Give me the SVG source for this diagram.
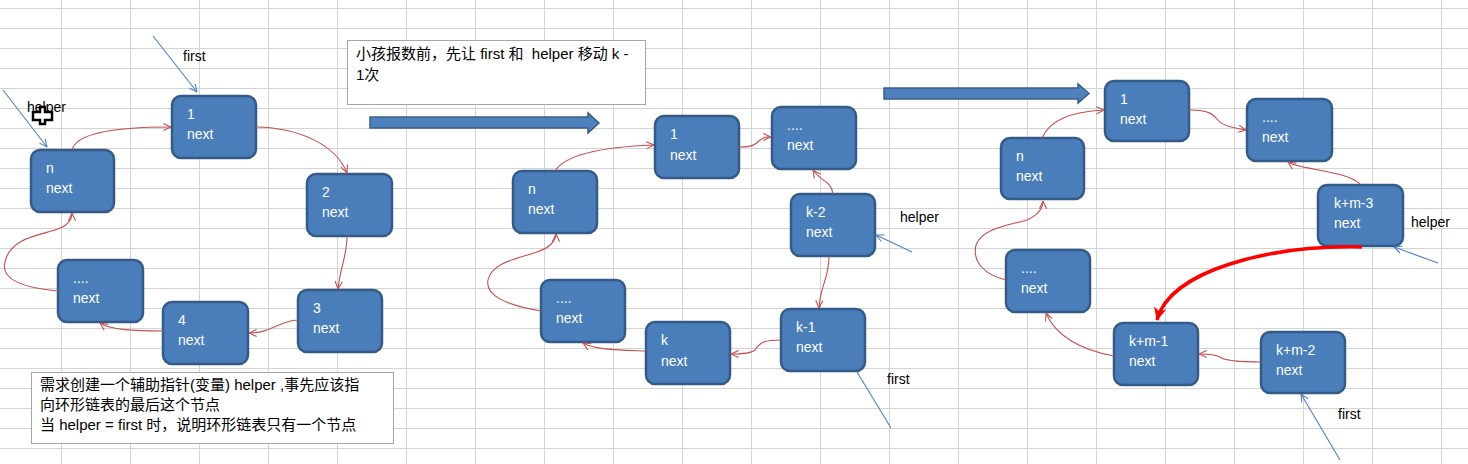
<svg xmlns="http://www.w3.org/2000/svg" width="1468" height="464" viewBox="0 0 1468 464">
<style>
.grid{stroke:#d4d4d4;stroke-width:1;fill:none}
.node rect{fill:#4a7ebb;stroke:#345a87;stroke-width:2.5}
.node text{fill:#ffffff;font-family:"Liberation Sans","Noto Sans",sans-serif;font-size:14px}
.lbl{fill:#000000;font-family:"Liberation Sans","Noto Sans",sans-serif;font-size:14px}
.box rect{fill:#ffffff;stroke:#a6a6a6;stroke-width:1}
.box text{fill:#000000;font-family:"Liberation Sans","Noto Sans CJK SC",sans-serif;font-size:15px}
.link{fill:none;stroke:#c0504d;stroke-width:1.1;marker-end:url(#ar)}
.ptr{fill:none;stroke:#4f81bd;stroke-width:1.1}
.ptra{marker-end:url(#ab)}
.big{fill:#4f81bd;stroke:#385d8a;stroke-width:1.5}
.thick{fill:none;stroke:#ff0000;stroke-width:3.5;marker-end:url(#ah)}
</style>
<defs>
<marker id="ar" viewBox="0 0 10 10" refX="9.5" refY="5" markerWidth="9" markerHeight="9" orient="auto" markerUnits="userSpaceOnUse"><path d="M1,1 L9.5,5 L1,9" fill="none" stroke="#c0504d" stroke-width="1.2"/></marker>
<marker id="ab" viewBox="0 0 10 10" refX="9.5" refY="5" markerWidth="9" markerHeight="9" orient="auto" markerUnits="userSpaceOnUse"><path d="M1,1 L9.5,5 L1,9" fill="none" stroke="#4f81bd" stroke-width="1.2"/></marker>
<marker id="ah" viewBox="0 0 10 10" refX="9" refY="5" markerWidth="14" markerHeight="14" orient="auto" markerUnits="userSpaceOnUse"><path d="M0,0.5 L9.5,5 L0,9.5 L3,5 Z" fill="#ff0000"/></marker>
</defs>
<rect width="1468" height="464" fill="#ffffff"/>
<path class="grid" d="M61.5,0V464M130.5,0V464M199.5,0V464M268.5,0V464M337.5,0V464M406.5,0V464M475.5,0V464M544.5,0V464M613.5,0V464M682.5,0V464M751.5,0V464M820.5,0V464M889.5,0V464M958.5,0V464M1027.5,0V464M1096.5,0V464M1165.5,0V464M1234.5,0V464M1303.5,0V464M1372.5,0V464M1441.5,0V464M0,8.5H1468M0,28.5H1468M0,48.5H1468M0,68.5H1468M0,88.5H1468M0,108.5H1468M0,128.5H1468M0,148.5H1468M0,168.5H1468M0,188.5H1468M0,208.5H1468M0,228.5H1468M0,248.5H1468M0,268.5H1468M0,288.5H1468M0,308.5H1468M0,328.5H1468M0,348.5H1468M0,368.5H1468M0,388.5H1468M0,408.5H1468M0,428.5H1468M0,448.5H1468"/>

<g id="note-left" class="box">
<rect x="31.5" y="372.5" width="362" height="71"/>
<text x="40" y="390">需求创建一个辅助指针(变量) helper ,事先应该指</text>
<text x="40" y="410">向环形链表的最后这个节点</text>
<text x="40" y="430">当 helper = first 时，说明环形链表只有一个节点</text>
</g>
<g id="note-mid" class="box">
<rect x="347.5" y="40.5" width="298" height="64"/>
<text x="356" y="59">小孩报数前，先让 first 和&#160; helper 移动 k -</text>
<text x="356" y="80">1次</text>
</g>

<g id="bigarrow1"><path class="big" d="M370,117 H588 V113 L599,123 L588,133 V128 H370 Z"/></g>
<g id="bigarrow2"><path class="big" d="M884,88 H1078 V84 L1089,93.5 L1078,103 V99 H884 Z"/></g>

<!-- left ring -->
<g id="L-1" class="node"><rect x="172" y="96" width="84" height="62" rx="9"/><text x="187" y="119">1</text><text x="187" y="139">next</text></g>
<g id="L-2" class="node"><rect x="307" y="174" width="85" height="62" rx="9"/><text x="322" y="197">2</text><text x="322" y="217">next</text></g>
<g id="L-3" class="node"><rect x="298" y="290" width="84" height="62" rx="9"/><text x="313" y="313">3</text><text x="313" y="333">next</text></g>
<g id="L-4" class="node"><rect x="163" y="302" width="85" height="62" rx="9"/><text x="178" y="325">4</text><text x="178" y="345">next</text></g>
<g id="L-dots" class="node"><rect x="58" y="260" width="85" height="62" rx="9"/><text x="73" y="283">....</text><text x="73" y="303">next</text></g>
<g id="L-n" class="node"><rect x="31" y="150" width="83" height="62" rx="9"/><text x="46" y="173">n</text><text x="46" y="193">next</text></g>

<!-- middle ring -->
<g id="M-1" class="node"><rect x="655" y="116" width="84" height="62" rx="9"/><text x="670" y="139">1</text><text x="670" y="160">next</text></g>
<g id="M-dots1" class="node"><rect x="772" y="107" width="84" height="62" rx="9"/><text x="787" y="130">....</text><text x="787" y="150">next</text></g>
<g id="M-k2" class="node"><rect x="791" y="194" width="84" height="62" rx="9"/><text x="806" y="217">k-2</text><text x="806" y="237">next</text></g>
<g id="M-k1" class="node"><rect x="781" y="309" width="84" height="62" rx="9"/><text x="796" y="332">k-1</text><text x="796" y="352">next</text></g>
<g id="M-k" class="node"><rect x="646" y="322" width="84" height="62" rx="9"/><text x="661" y="345">k</text><text x="661" y="366">next</text></g>
<g id="M-dots2" class="node"><rect x="541" y="280" width="84" height="62" rx="9"/><text x="556" y="303">....</text><text x="556" y="323">next</text></g>
<g id="M-n" class="node"><rect x="513" y="171" width="84" height="62" rx="9"/><text x="528" y="194">n</text><text x="528" y="214">next</text></g>

<!-- right ring -->
<g id="R-1" class="node"><rect x="1105" y="81" width="84" height="60" rx="9"/><text x="1120" y="104">1</text><text x="1120" y="124">next</text></g>
<g id="R-dots1" class="node"><rect x="1247" y="99" width="85" height="62" rx="9"/><text x="1262" y="122">....</text><text x="1262" y="142">next</text></g>
<g id="R-km3" class="node"><rect x="1318" y="185" width="85" height="61" rx="9"/><text x="1334" y="208">k+m-3</text><text x="1334" y="228">next</text></g>
<g id="R-km2" class="node"><rect x="1261" y="332" width="84" height="61" rx="9"/><text x="1276" y="355">k+m-2</text><text x="1276" y="375">next</text></g>
<g id="R-km1" class="node"><rect x="1114" y="323" width="84" height="62" rx="9"/><text x="1129" y="346">k+m-1</text><text x="1129" y="366">next</text></g>
<g id="R-dots2" class="node"><rect x="1006" y="250" width="84" height="62" rx="9"/><text x="1021" y="273">....</text><text x="1021" y="293">next</text></g>
<g id="R-n" class="node"><rect x="1001" y="138" width="83" height="61" rx="9"/><text x="1016" y="161">n</text><text x="1016" y="181">next</text></g>

<g id="labels">
<text class="lbl" x="183" y="61">first</text>
<text class="lbl" x="27" y="112">helper</text>
<text class="lbl" x="900" y="222">helper</text>
<text class="lbl" x="887" y="384">first</text>
<text class="lbl" x="1411" y="227">helper</text>
<text class="lbl" x="1338" y="419">first</text>
</g>

<g id="connectors">
<path class="link" d="M72,150 C76,132 120,127 171,127"/>
<path class="link" d="M256,127 C300,128 336,145 347,173"/>
<path class="link" d="M347,236 C347,256 340,268 338,289"/>
<path class="link" d="M298,320 C278,321 272,333 249,333"/>
<path class="link" d="M163,331 C135,331 110,330 100,323"/>
<path class="link" d="M58,291 C25,288 0,280 5,262 C10,238 40,235 55,230 C68,226 72,220 72,213"/>

<path class="link" d="M555,171 C565,155 600,147 654,145"/>
<path class="link" d="M739,147 C752,147 755,145 760,140 C765,136 768,137 771,137"/>
<path class="link" d="M833,194 C831,180 822,183 813,170"/>
<path class="link" d="M829,256 C829,280 820,285 819,308"/>
<path class="link" d="M781,340 C765,340 760,342 755,350 C750,354 740,354 731,354"/>
<path class="link" d="M646,351 C620,350 595,350 583,343"/>
<path class="link" d="M541,311 C505,305 485,295 488,280 C492,262 520,258 537,252 C550,248 556,240 556,234"/>

<path class="link" d="M1042,138 C1050,120 1070,112 1104,110"/>
<path class="link" d="M1189,110 C1210,110 1214,115 1218,120 C1222,126 1235,128 1246,130"/>
<path class="link" d="M1360,184 C1345,170 1300,170 1288,162"/>
<path class="link" d="M1261,362 C1240,362 1225,361 1220,357 C1215,354 1205,354 1199,354"/>
<path class="link" d="M1114,356 C1080,350 1055,335 1046,313"/>
<path class="link" d="M1006,280 C985,275 972,262 976,245 C982,228 1010,225 1027,220 C1038,215 1043,208 1043,201"/>
<path class="thick" d="M1362,247 C1270,245 1170,270 1157,320"/>

<path class="ptr ptra" d="M153,36 L197,92"/>
<path class="ptr ptra" d="M3,90 L47,147"/>
<path class="ptr ptra" d="M912,252 L876,235"/>
<path class="ptr" d="M891,428 L857,372"/>
<path class="ptr ptra" d="M1438,263 L1394,247"/>
<path class="ptr ptra" d="M1340,460 L1301,394"/>
</g>

<g id="cursor"><path d="M40,107 H45 V112 H52 V120 H45 V124 H40 V120 H33 V112 H40 Z" fill="#ffffff" stroke="#000000" stroke-width="2.5"/></g>
</svg>
